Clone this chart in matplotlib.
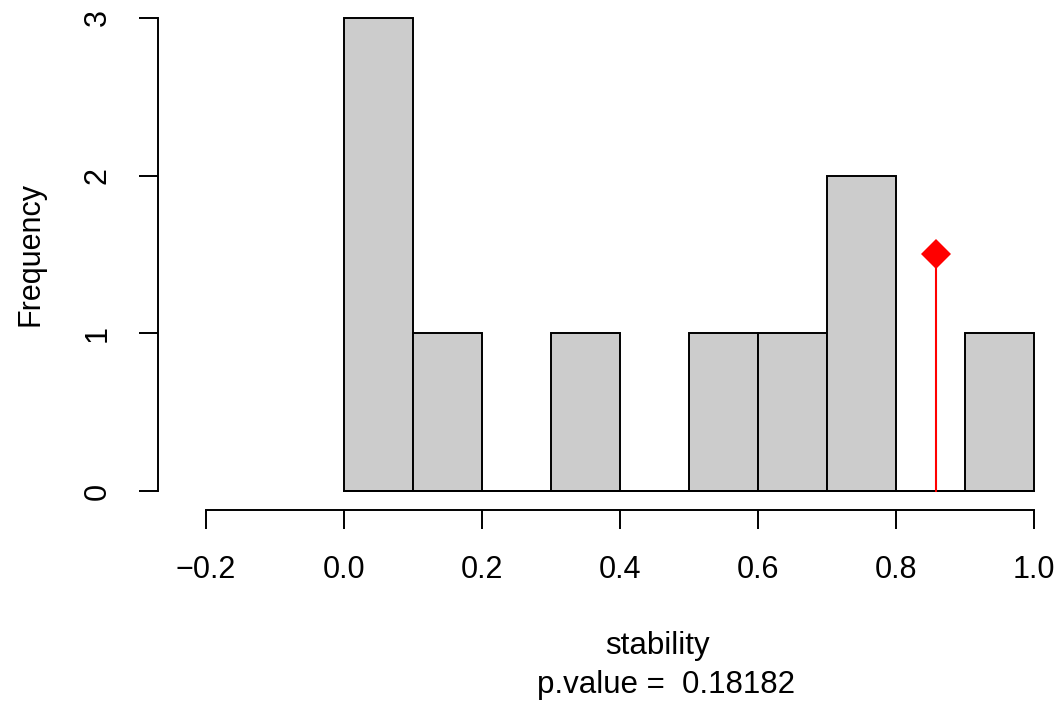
import matplotlib
matplotlib.use("Agg")
import matplotlib.pyplot as plt

plt.rcParams['font.family'] = ['Liberation Sans', 'DejaVu Sans']

# histogram bins and counts
bin_edges = [0.0, 0.1, 0.2, 0.3, 0.4, 0.5, 0.6, 0.7, 0.8, 0.9, 1.0]
counts = [3, 1, 0, 1, 0, 1, 1, 2, 0, 1]

# observed statistic
observed = 0.858
marker_height = 1.5
p_value = "0.18182"

x_ticks = [-0.2, 0.0, 0.2, 0.4, 0.6, 0.8, 1.0]
y_ticks = [0, 1, 2, 3]

W, H = 1062, 705
fig = plt.figure(figsize=(W / 100, H / 100), dpi=100)

# axes in pixel units (R-like plot region)
left_px, right_px, bottom_px, top_px = 158, 1062, 510, 0
ax = fig.add_axes([left_px / W, (H - bottom_px) / H,
                   (right_px - left_px) / W, (bottom_px - top_px) / H])

px_per_x = 690.0  # pixels per 1.0 of x
x0_px = 344
ax.set_xlim((left_px - x0_px) / px_per_x, (right_px - x0_px) / px_per_x)
px_per_y = 157.7
y0_px = 491
ax.set_ylim((y0_px - bottom_px) / px_per_y, (y0_px - top_px) / px_per_y)

widths = [bin_edges[i + 1] - bin_edges[i] for i in range(len(counts))]
ax.bar(bin_edges[:-1], counts, width=widths, align='edge',
       color='#cccccc', edgecolor='black', linewidth=1.4)
# baseline for empty bins
ax.plot([bin_edges[0], bin_edges[-1]], [0, 0], color='black', linewidth=1.4)

ax.plot([observed, observed], [0, marker_height], color='red', linewidth=1.5)
ax.plot([observed], [marker_height], marker='D', color='red',
        markersize=15, markeredgewidth=0)

for s in ['top', 'right']:
    ax.spines[s].set_visible(False)
ax.spines['left'].set_bounds(0, 3)
ax.spines['bottom'].set_bounds(-0.2, 1.0)
ax.spines['left'].set_linewidth(1.4)
ax.spines['bottom'].set_linewidth(1.4)

ax.set_xticks(x_ticks)
ax.set_xticklabels(['\u22120.2', '0.0', '0.2', '0.4', '0.6', '0.8', '1.0'])
ax.set_yticks(y_ticks)
ax.set_yticklabels([str(v) for v in y_ticks], rotation=90, va='center')
ax.tick_params(axis='both', length=13.5, width=1.4, labelsize=22, pad=19)

fig.text(30 / W, 1 - 254 / H, "Frequency", rotation=90, fontsize=22,
         ha='center', va='center')
fig.text(657 / W, 1 - 646 / H, "stability", fontsize=22.5, ha='center', va='center')
fig.text(666 / W, 1 - 685 / H, "p.value =  " + p_value, fontsize=22.5,
         ha='center', va='center')

fig.savefig("out.png", dpi=100)
